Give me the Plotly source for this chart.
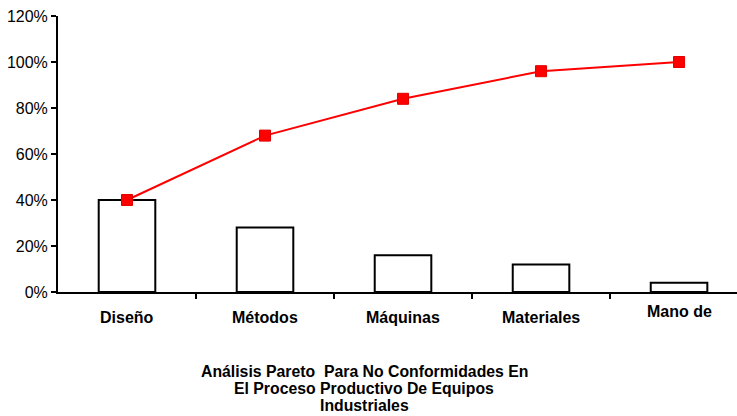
import plotly.graph_objects as go

# Pareto data: share of non-conformities per cause and running total
categorias = ["Diseño", "Métodos", "Máquinas", "Materiales", "Mano de"]
porcentaje = [0.40, 0.28, 0.16, 0.12, 0.04]
acumulado = [0.40, 0.68, 0.84, 0.96, 1.00]
y_ticks = [0, 0.2, 0.4, 0.6, 0.8, 1.0, 1.2]
y_tick_text = ["0%", "20%", "40%", "60%", "80%", "100%", "120%"]
titulo = [
    "Análisis Pareto  Para No Conformidades En",
    "El Proceso Productivo De Equipos",
    "Industriales",
]

FONT = "Liberation Sans, Arial"
x_idx = list(range(len(categorias)))

fig = go.Figure()

fig.add_trace(go.Bar(
    x=x_idx, y=porcentaje,
    marker=dict(color="white", line=dict(color="black", width=2)),
    width=0.41,
    hoverinfo="skip",
))

fig.add_trace(go.Scatter(
    x=x_idx, y=acumulado,
    mode="lines+markers",
    line=dict(color="#ff0000", width=2),
    marker=dict(symbol="square", size=11, color="#ff0000",
                line=dict(color="#e00000", width=1)),
    hoverinfo="skip",
))

# category labels under the axis
for i, c in enumerate(categorias):
    fig.add_annotation(
        x=i, y=0, xref="x", yref="y",
        text=f"<b>{c}</b>", showarrow=False,
        yanchor="top", yshift=-15 if c != "Mano de" else -9,
        font=dict(family=FONT, size=16, color="black"),
    )

# bottom caption, one annotation per line for tight line spacing
plot_h = 292 - 16
for k, linea in enumerate(titulo):
    fig.add_annotation(
        x=(364 - 58) / (737 - 58), xref="paper",
        y=-(371 + 17 * k - 292) / plot_h, yref="paper",
        text=f"<b>{linea}</b>", showarrow=False,
        xanchor="center", yanchor="middle",
        font=dict(family=FONT, size=15.8, color="black"),
    )

fig.update_layout(
    width=737, height=416,
    margin=dict(l=58, r=0, t=16, b=124),
    paper_bgcolor="white", plot_bgcolor="white",
    showlegend=False,
    font=dict(family=FONT, color="black"),
    xaxis=dict(
        range=[-0.5, 4.42],
        tickmode="array", tickvals=[0.5, 1.5, 2.5, 3.5, 4.5],
        showticklabels=False,
        ticks="outside", ticklen=5, tickwidth=2, tickcolor="black",
        showline=True, linecolor="black", linewidth=2,
        showgrid=False, zeroline=False,
    ),
    yaxis=dict(
        range=[0, 1.2],
        tickmode="array", tickvals=y_ticks, ticktext=y_tick_text,
        ticks="outside", ticklen=5, tickwidth=2, tickcolor="black",
        tickfont=dict(size=16, color="black"),
        showline=True, linecolor="black", linewidth=2,
        showgrid=False, zeroline=False,
    ),
)

fig.write_html("out.html")
